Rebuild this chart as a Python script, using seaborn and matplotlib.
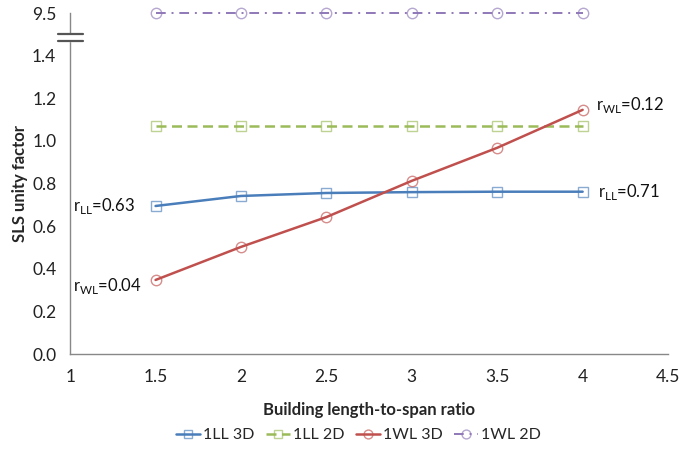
import numpy as np
import pandas as pd
import matplotlib
matplotlib.use("Agg")
import matplotlib.pyplot as plt
import matplotlib.transforms as mtransforms
from matplotlib.colors import to_rgba
import seaborn as sns

ratio = [1.5, 2.0, 2.5, 3.0, 3.5, 4.0]
ll_3d = [0.695, 0.742, 0.756, 0.760, 0.762, 0.762]
ll_2d = [1.07, 1.07, 1.07, 1.07, 1.07, 1.07]
wl_3d = [0.348, 0.503, 0.643, 0.813, 0.968, 1.146]
wl_2d = [9.5, 9.5, 9.5, 9.5, 9.5, 9.5]
series_names = ["1LL 3D", "1LL 2D", "1WL 3D", "1WL 2D"]
y_ticks = [0.0, 0.2, 0.4, 0.6, 0.8, 1.0, 1.2, 1.4, 9.5]
x_ticks = [1, 1.5, 2, 2.5, 3, 3.5, 4, 4.5]

sns.set_theme(style="white")
plt.rcParams["font.family"] = ["Lato", "DejaVu Sans"]
plt.rcParams["mathtext.fontset"] = "custom"
plt.rcParams["mathtext.rm"] = "Lato"

# broken y axis: values above 1.5 are squeezed so 9.5 sits at 1.6
BREAK, TOP_VAL, TOP_POS = 1.5, 9.5, 1.6
k = (TOP_POS - BREAK) / (TOP_VAL - BREAK)

def fwd(y):
    y = np.asarray(y, dtype=float)
    return np.where(y <= BREAK, y, BREAK + (y - BREAK) * k)

def inv(y):
    y = np.asarray(y, dtype=float)
    return np.where(y <= BREAK, y, BREAK + (y - BREAK) / k)

df = pd.DataFrame({"ratio": ratio * 4,
                   "value": ll_3d + ll_2d + wl_3d + wl_2d,
                   "series": np.repeat(series_names, len(ratio))})

colors = {"1LL 3D": "#4a7ebb", "1LL 2D": "#9bbb59",
          "1WL 3D": "#c0504d", "1WL 2D": "#8f78b8"}
markers = {"1LL 3D": "s", "1LL 2D": "s", "1WL 3D": "o", "1WL 2D": "o"}
styles = {"1LL 3D": "-", "1LL 2D": (0, (4, 2.2)),
          "1WL 3D": "-", "1WL 2D": (0, (5, 3, 1, 3))}
widths = {"1LL 3D": 1.8, "1LL 2D": 1.8, "1WL 3D": 1.8, "1WL 2D": 1.4}

fig = plt.figure(figsize=(6.81, 4.50), dpi=100)
ax = fig.add_axes([0.103, 0.213, 0.878, 0.758])
ax.set_yscale("function", functions=(fwd, inv))

for name in series_names:
    sub = df[df["series"] == name]
    sns.lineplot(data=sub, x="ratio", y="value", ax=ax, color=colors[name],
                 marker=markers[name], markersize=7.5, markerfacecolor="none",
                 markeredgecolor=to_rgba(colors[name], 0.65), markeredgewidth=1.0,
                 linestyle=styles[name], linewidth=widths[name], label=name,
                 clip_on=False)

ax.set_xlim(1, 4.5)
ax.set_ylim(0, TOP_VAL)
ax.set_xticks(x_ticks)
ax.set_xticklabels([f"{v:g}" for v in x_ticks])
ax.set_yticks(y_ticks)
ax.set_yticklabels([f"{v:.1f}" for v in y_ticks])
ax.tick_params(axis="both", labelsize=12.5, colors="#222222", length=4,
               direction="out", color="#888888", width=1)
ax.tick_params(axis="y", pad=6)
ax.tick_params(axis="x", pad=7)
for s in ["top", "right"]:
    ax.spines[s].set_visible(False)
for s in ["left", "bottom"]:
    ax.spines[s].set_color("#888888")
    ax.spines[s].set_linewidth(1.0)

ax.set_xlabel("Building length-to-span ratio", fontsize=12, fontweight="bold",
              labelpad=12)
ax.set_ylabel("SLS unity factor", fontsize=12, fontweight="bold", labelpad=3)

# break marks across the y axis
tr = mtransforms.blended_transform_factory(ax.transAxes, ax.transData)
ax.fill_between([-0.03, 0.03], [1.470, 1.470], [1.512, 1.512],
                transform=tr, color="white", clip_on=False, zorder=5)
for yb in (1.470, 1.512):
    ax.plot([-0.021, 0.021], [yb, yb], transform=tr, color="#555555",
            lw=1.6, clip_on=False, zorder=6)

ann = dict(fontsize=12, color="#111111")
ax.text(1.38, ll_3d[0], r"r$_{\mathrm{LL}}$=0.63", ha="right", va="center", **ann)
ax.text(1.42, wl_3d[0] - 0.03, r"r$_{\mathrm{WL}}$=0.04", ha="right", va="center", **ann)
ax.text(4.08, 1.17, r"r$_{\mathrm{WL}}$=0.12", ha="left", va="center", **ann)
ax.text(4.09, ll_3d[-1], r"r$_{\mathrm{LL}}$=0.71", ha="left", va="center", **ann)

ax.legend(loc="upper center", bbox_to_anchor=(0.482, -0.175), ncol=4,
          frameon=False, fontsize=11.5, handlelength=1.5, handletextpad=0.2,
          columnspacing=0.7, markerscale=0.85)

fig.savefig("out.png", dpi=100)
